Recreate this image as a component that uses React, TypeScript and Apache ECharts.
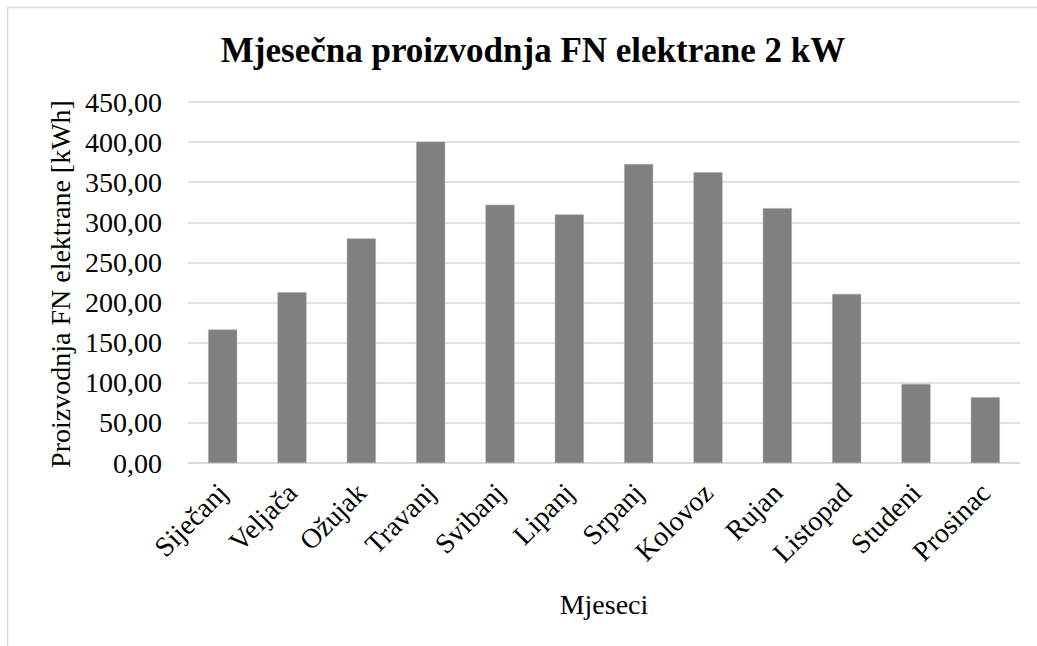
import React, { useEffect, useRef } from "react";
import * as echarts from "echarts";

const months = [
  "Siječanj", "Veljača", "Ožujak", "Travanj", "Svibanj", "Lipanj",
  "Srpanj", "Kolovoz", "Rujan", "Listopad", "Studeni", "Prosinac",
];
const production = [166.4, 213.0, 280.0, 400.5, 321.9, 309.9, 372.6, 362.3, 317.7, 210.8, 98.6, 82.0];
const yTicks = { min: 0, max: 450, interval: 50 };
const titleText = "Mjesečna proizvodnja FN elektrane 2 kW";
const yName = "Proizvodnja FN elektrane [kWh]";
const xName = "Mjeseci";

const FONT = "Liberation Serif";

export default function App() {
  const ref = useRef<HTMLDivElement>(null);
  useEffect(() => {
    if (!ref.current) return;
    const chart = echarts.init(ref.current, undefined, { renderer: "svg" });
    chart.setOption({
      animation: false,
      backgroundColor: "#ffffff",
      textStyle: { fontFamily: FONT },
      title: {
        text: titleText,
        left: 528,
        textAlign: "center",
        top: 28,
        textStyle: { fontFamily: FONT, fontSize: 35, fontWeight: "bold", color: "#000" },
      },
      graphic: [
        {
          type: "rect",
          shape: { x: 7.5, y: 7.5, width: 1100, height: 700 },
          style: { fill: "none", stroke: "#d9d9d9", lineWidth: 1.5 },
          silent: true,
        },
        {
          type: "text",
          x: 60,
          y: 284,
          rotation: Math.PI / 2,
          style: {
            text: yName,
            fontFamily: FONT,
            fontSize: 28,
            fill: "#000",
            align: "center",
            verticalAlign: "middle",
          },
        },
        {
          type: "text",
          x: 604,
          y: 604,
          style: {
            text: xName,
            fontFamily: FONT,
            fontSize: 28,
            fill: "#000",
            align: "center",
            verticalAlign: "middle",
          },
        },
      ],
      grid: { left: 188, top: 102, width: 832, height: 361, containLabel: false },
      xAxis: {
        type: "category",
        data: months,
        axisLine: { lineStyle: { color: "#d9d9d9", width: 1.5 } },
        axisTick: { show: false },
        axisLabel: {
          rotate: 45,
          interval: 0,
          margin: 25,
          fontFamily: FONT,
          fontSize: 28,
          color: "#000",
        },
      },
      yAxis: {
        type: "value",
        min: yTicks.min,
        max: yTicks.max,
        interval: yTicks.interval,
        axisLine: { show: false },
        axisTick: { show: false },
        splitLine: { lineStyle: { color: "#d9d9d9", width: 1.5 } },
        axisLabel: {
          margin: 26,
          fontFamily: FONT,
          fontSize: 28,
          color: "#000",
          formatter: (v: number) => v.toFixed(2).replace(".", ","),
        },
      },
      series: [
        {
          type: "bar",
          data: production,
          barWidth: 29,
          itemStyle: { color: "#808080", borderColor: "#a6a6a6", borderWidth: 0.5 },
        },
      ],
    });
    return () => chart.dispose();
  }, []);
  return (
    <div
      ref={ref}
      style={{ position: "fixed", left: 0, top: 0, width: 1037, height: 646 }}
    />
  );
}
